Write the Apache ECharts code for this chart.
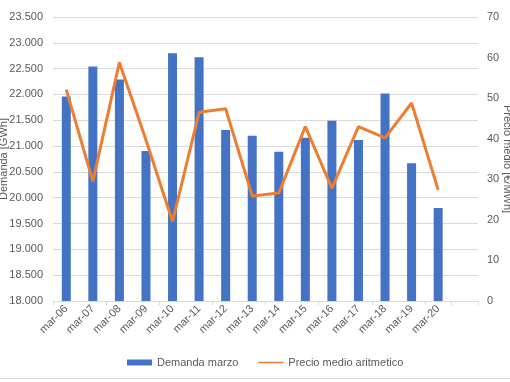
<!DOCTYPE html>
<html>
<head>
<meta charset="utf-8">
<script src="https://cdn.jsdelivr.net/npm/echarts@6/dist/echarts.min.js"></script>
<style>html,body{margin:0;padding:0;background:#fff;}#c{width:510px;height:382px;}</style>
</head>
<body>
<div id="c"></div>
<script>
var categories = ['mar-06','mar-07','mar-08','mar-09','mar-10','mar-11','mar-12','mar-13','mar-14','mar-15','mar-16','mar-17','mar-18','mar-19','mar-20',''];
var demanda = [21960, 22540, 22290, 20905, 22800, 22720, 21310, 21200, 20890, 21160, 21490, 21120, 22020, 20670, 19800, null];
var precio = [52.1, 29.5, 58.8, 39.7, 19.6, 46.5, 47.4, 25.9, 26.6, 43.0, 27.8, 43.0, 40.2, 48.8, 27.4, null];
var leftName = 'Demanda [GWh]';
var rightName = 'Precio medio [€/MWh]';
var serieBar = 'Demanda marzo';
var serieLine = 'Precio medio aritmetico';

var FONT = 'Liberation Sans';
var GREY = '#595959';
function fmtThousands(v){
  var s = String(Math.round(v));
  return s.replace(/\B(?=(\d{3})+(?!\d))/g, '.');
}
var chart = echarts.init(document.getElementById('c'));
chart.setOption({
  animation: false,
  textStyle: {fontFamily: FONT},
  grid: {left: 53, right: 32, top: 17, bottom: 81, containLabel: false, outerBoundsMode: 'none'},
  legend: {
    bottom: 9, left: 122,
    itemWidth: 25, itemHeight: 6, itemGap: 20,
    textStyle: {fontFamily: FONT, fontSize: 11, color: GREY},
    data: [
      {name: serieBar, icon: 'rect'},
      {name: serieLine, icon: 'path://M0,0 L25,0 L25,0 Z M0,2.2 L25,2.2 L25,3.8 L0,3.8 Z M0,6 L25,6 L25,6 Z', itemStyle: {borderWidth: 0}}
    ]
  },
  xAxis: {
    type: 'category', data: categories, boundaryGap: true,
    axisLine: {lineStyle: {color: '#d9d9d9'}},
    axisTick: {show: true, interval: 1, length: 4, lineStyle: {color: '#d9d9d9'}},
    axisLabel: {rotate: 45, interval: 0, fontSize: 11, color: GREY, margin: 6, fontFamily: FONT}
  },
  yAxis: [{
    type: 'value', min: 18000, max: 23500, interval: 500,
    name: leftName, nameLocation: 'middle', nameGap: 44, nameRotate: 90, nameMoveOverlap: false,
    nameTextStyle: {fontSize: 11, color: GREY, fontFamily: FONT},
    axisLine: {show: false}, axisTick: {show: false},
    axisLabel: {fontSize: 11, color: GREY, margin: 10, fontFamily: FONT, formatter: fmtThousands},
    splitLine: {lineStyle: {color: '#d9d9d9'}}
  }, {
    type: 'value', min: 0, max: 70, interval: 10, position: 'right',
    name: rightName, nameLocation: 'middle', nameGap: 24, nameRotate: 270, nameMoveOverlap: false,
    nameTextStyle: {fontSize: 11, color: GREY, fontFamily: FONT},
    axisLine: {show: false}, axisTick: {show: false},
    axisLabel: {fontSize: 11, color: GREY, margin: 9, fontFamily: FONT},
    splitLine: {show: false}
  }],
  series: [{
    name: serieBar, type: 'bar', data: demanda, yAxisIndex: 0,
    barWidth: 9, itemStyle: {color: '#4472C4'}
  }, {
    name: serieLine, type: 'line', data: precio, yAxisIndex: 1,
    symbol: 'none', lineStyle: {color: '#ED7D31', width: 3}, itemStyle: {color: '#ED7D31'}
  }],
  graphic: [{
    type: 'line', shape: {x1: 0, y1: 378.5, x2: 510, y2: 378.5},
    style: {stroke: '#d9d9d9', lineWidth: 1}
  }]
});
</script>
</body>
</html>
